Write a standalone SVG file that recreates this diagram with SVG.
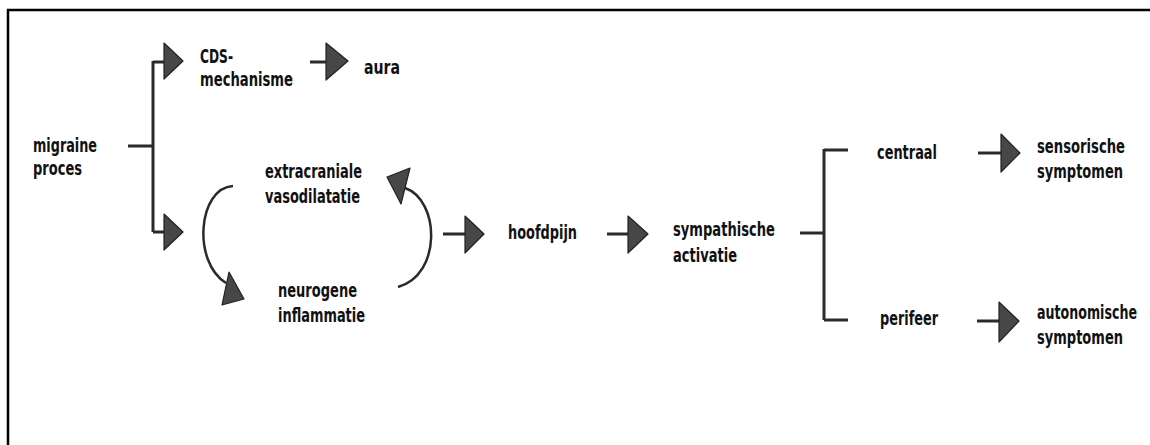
<svg xmlns="http://www.w3.org/2000/svg" width="1150" height="445" viewBox="0 0 1150 445">
<style>
text{font-family:'DejaVu Sans Condensed','DejaVu Sans',sans-serif;font-stretch:condensed;font-weight:bold;font-size:19px;fill:#111}
.ln{stroke:#2a2a2a;stroke-width:3;fill:none}
.arc{stroke:#2a2a2a;stroke-width:2.5;fill:none}
.hd{fill:#474747;stroke:#222;stroke-width:1.2;stroke-linejoin:round}
</style>
<rect x="0" y="0" width="1150" height="445" fill="#fff"/>
<path d="M8 445 V10 H1150" fill="none" stroke="#000" stroke-width="2.5"/>
<g id="connectors">
  <path class="ln" d="M128 146 H153 M153 61 V232 M153 62 H165 M153 232 H165"/>
  <polygon class="hd" points="164,43 183,61 164,79"/>
  <polygon class="hd" points="164,214 183,232 164,250"/>
  <path class="ln" d="M310 62 H327"/>
  <polygon class="hd" points="326,43 348,61 326,80"/>
  <path class="arc" d="M233 186 C198 188 192 262 226 283"/>
  <polygon class="hd" points="229,272 244,299 222,305"/>
  <path class="arc" d="M398 287 C442 275 440 200 405 188"/>
  <polygon class="hd" points="387,177 410,168 401,204"/>
  <path class="ln" d="M443 234 H466"/>
  <polygon class="hd" points="465,216 484,234 465,253"/>
  <path class="ln" d="M607 234 H630"/>
  <polygon class="hd" points="628,216 648,234 628,253"/>
  <path class="ln" d="M800 233 H824 M824 149 V320 M824 150 H848 M824 320 H848"/>
  <path class="ln" d="M978 153 H1002"/>
  <polygon class="hd" points="1001,134 1020,153 1001,172"/>
  <path class="ln" d="M977 321 H1000"/>
  <polygon class="hd" points="999,302 1019,321 999,342"/>
</g>
<g id="migraine"><text x="33" y="152" textLength="64" lengthAdjust="spacingAndGlyphs">migraine</text><text x="33" y="175" textLength="49" lengthAdjust="spacingAndGlyphs">proces</text></g>
<g id="cds"><text x="200" y="63" textLength="33" lengthAdjust="spacingAndGlyphs">CDS-</text><text x="200" y="86" textLength="93" lengthAdjust="spacingAndGlyphs">mechanisme</text></g>
<g id="aura"><text x="364" y="74" textLength="36" lengthAdjust="spacingAndGlyphs">aura</text></g>
<g id="extracraniale"><text x="265" y="178" textLength="97" lengthAdjust="spacingAndGlyphs">extracraniale</text><text x="265" y="203" textLength="95" lengthAdjust="spacingAndGlyphs">vasodilatatie</text></g>
<g id="neurogene"><text x="278" y="297" textLength="79" lengthAdjust="spacingAndGlyphs">neurogene</text><text x="278" y="322" textLength="87" lengthAdjust="spacingAndGlyphs">inflammatie</text></g>
<g id="hoofdpijn"><text x="508" y="239" textLength="69" lengthAdjust="spacingAndGlyphs">hoofdpijn</text></g>
<g id="sympathische"><text x="673" y="236" textLength="102" lengthAdjust="spacingAndGlyphs">sympathische</text><text x="673" y="262" textLength="64" lengthAdjust="spacingAndGlyphs">activatie</text></g>
<g id="centraal"><text x="877" y="159" textLength="60" lengthAdjust="spacingAndGlyphs">centraal</text></g>
<g id="perifeer"><text x="880" y="325" textLength="58" lengthAdjust="spacingAndGlyphs">perifeer</text></g>
<g id="sensorische"><text x="1037" y="153" textLength="88" lengthAdjust="spacingAndGlyphs">sensorische</text><text x="1037" y="178" textLength="86" lengthAdjust="spacingAndGlyphs">symptomen</text></g>
<g id="autonomische"><text transform="translate(1037 319) scale(0.74 1)" x="0" y="0">autonomische</text><text x="1037" y="344" textLength="86" lengthAdjust="spacingAndGlyphs">symptomen</text></g>
</svg>
